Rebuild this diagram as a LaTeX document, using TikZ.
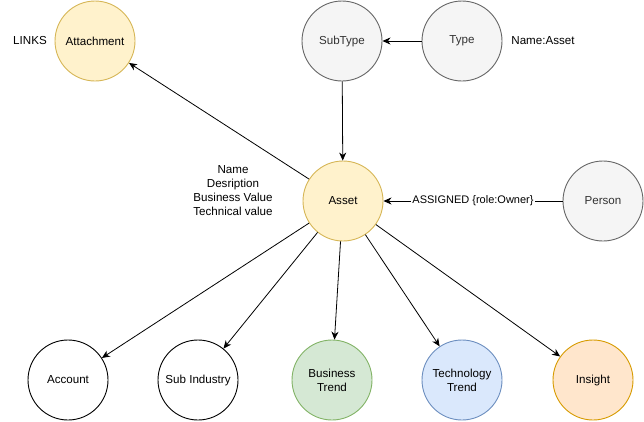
\documentclass[tikz,border=0pt]{standalone}
\usepackage{fontspec}
\setmainfont{Liberation Sans}
\usetikzlibrary{arrows.meta}
\definecolor{yfill}{HTML}{FFF2CC}\definecolor{ydraw}{HTML}{D6B656}
\definecolor{gfill}{HTML}{F5F5F5}\definecolor{gdraw}{HTML}{666666}
\definecolor{gtext}{HTML}{333333}
\definecolor{grfill}{HTML}{D5E8D4}\definecolor{grdraw}{HTML}{82B366}
\definecolor{bfill}{HTML}{DAE8FC}\definecolor{bdraw}{HTML}{6C8EBF}
\definecolor{ofill}{HTML}{FFE6CC}\definecolor{odraw}{HTML}{D79B00}
\begin{document}
\begin{tikzpicture}[x=1pt,y=-1pt,
  every node/.style={font=\fontsize{11.6}{14}\selectfont},
  ent/.style={circle,minimum size=80pt,inner sep=0pt,line width=0.9pt,align=center},
  yel/.style={ent,fill=yfill,draw=ydraw},
  gry/.style={ent,fill=gfill,draw=gdraw,text=gtext},
  wht/.style={ent,fill=white,draw=black},
  grn/.style={ent,fill=grfill,draw=grdraw},
  blu/.style={ent,fill=bfill,draw=bdraw},
  org/.style={ent,fill=ofill,draw=odraw},
  arr/.style={line width=0.8pt,-{Stealth[length=8pt,width=7pt,inset=2.5pt]}},
  lbl/.style={inner sep=1pt}]
\useasboundingbox (0,0) rectangle (644,421);
\node[yel] (att) at (95,41) {Attachment};
\node[gry] (sub) at (342,41) {SubType};
\node[gry] (typ) at (462,41) {Type};
\node[yel] (ast) at (343,201) {Asset};
\node[gry] (per) at (603,201) {Person};
\node[wht] (acc) at (68,380) {Account};
\node[wht] (sind) at (198,380) {Sub Industry};
\node[grn] (bt) at (332,380) {Business\\Trend};
\node[blu] (tt) at (462,380) {Technology\\Trend};
\node[org] (ins) at (593,380) {Insight};
\node[lbl] (links) at (30,41) {LINKS};
\node[lbl] (nm) at (543,41) {Name:Asset};
\node[lbl,align=center] (props) at (233,191) {Name\\Desription\\Business Value\\Technical value};
\draw[arr] (typ) -- (sub);
\draw[arr] (sub) -- (ast);
\draw[arr] (ast) -- (att);
\draw[arr] (per) -- node[fill=white,inner sep=1pt,font=\fontsize{11}{13}\selectfont] {ASSIGNED \{role:Owner\}} (ast);
\draw[arr] (ast) -- (acc);
\draw[arr] (ast) -- (sind);
\draw[arr] (ast) -- (bt);
\draw[arr] (ast) -- (tt);
\draw[arr] (ast) -- (ins);
\end{tikzpicture}
\end{document}
